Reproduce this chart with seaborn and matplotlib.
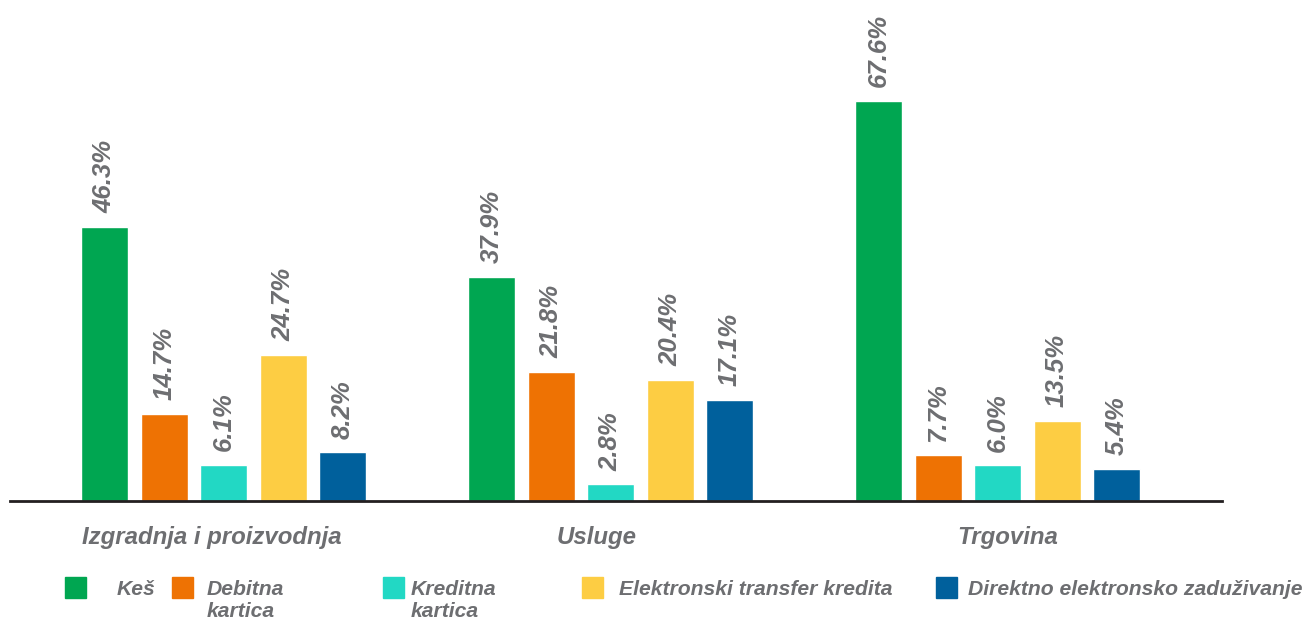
import matplotlib
matplotlib.use("Agg")
import matplotlib.pyplot as plt
import matplotlib.transforms as mtransforms
import seaborn as sns
import pandas as pd
from matplotlib.patches import Rectangle

categories = ["Izgradnja i proizvodnja", "Usluge", "Trgovina"]
series = ["Keš", "Debitna kartica", "Kreditna kartica",
          "Elektronski transfer kredita", "Direktno elektronsko zaduživanje"]
legend_labels = ["Keš", "Debitna\nkartica", "Kreditna\nkartica",
                 "Elektronski transfer kredita", "Direktno elektronsko zaduživanje"]
kes = [46.3, 37.9, 67.6]
debitna = [14.7, 21.8, 7.7]
kreditna = [6.1, 2.8, 6.0]
transfer = [24.7, 20.4, 13.5]
direktno = [8.2, 17.1, 5.4]
colors = ["#00A651", "#EE7203", "#22D8C4", "#FDCD43", "#00609C"]
gray = "#6D6E71"

rows = []
for s, vals in zip(series, [kes, debitna, kreditna, transfer, direktno]):
    for c, v in zip(categories, vals):
        rows.append({"cat": c, "series": s, "val": v})
df = pd.DataFrame(rows)

sns.set_style("white")
plt.rcParams["font.family"] = ["Liberation Sans", "DejaVu Sans"]

fig = plt.figure(figsize=(13.08, 6.22), dpi=100)
ax = fig.add_axes([10 / 1308, (622 - 501) / 622, (1222 - 10) / 1308, 1 - (622 - 501) / 622 - 27.4 / 622])

sns.barplot(data=df, x="cat", y="val", hue="series", order=categories,
            hue_order=series, palette=colors, width=0.7685, gap=0.21,
            saturation=1, ax=ax, legend=False)

ax.set_xlim(-0.552, 2.58)
ax.set_ylim(0, 80)
ax.set_xlabel("")
ax.set_ylabel("")
ax.set_yticks([])
for sp in ["top", "right", "left"]:
    ax.spines[sp].set_visible(False)
ax.spines["bottom"].set_color("#231F20")
ax.spines["bottom"].set_linewidth(2)
ax.tick_params(axis="x", length=0, pad=18)
label_shift_px = [-12, -14, 10]
for t, dx in zip(ax.get_xticklabels(), label_shift_px):
    t.set_fontsize(17.3)
    t.set_fontweight("bold")
    t.set_fontstyle("italic")
    t.set_color(gray)
    t.set_transform(t.get_transform() + mtransforms.Affine2D().translate(dx, 0))

for cont in ax.containers:
    for bar in cont:
        h = bar.get_height()
        ax.annotate(f"{h:.1f}%", (bar.get_x() + bar.get_width() / 2, h),
                    xytext=(0, 10), textcoords="offset points",
                    rotation=90, ha="center", va="bottom",
                    fontsize=18.5, fontweight="bold", fontstyle="italic", color=gray)

# legend
sq_x = [65, 172, 383, 582, 936]
tx_x = [117, 207, 411, 619, 968]
for sx, tx, col, lab in zip(sq_x, tx_x, colors, legend_labels):
    fig.patches.append(Rectangle((sx / 1308, 1 - 598 / 622), 21 / 1308, 21 / 622,
                                 transform=fig.transFigure, color=col))
    fig.text(tx / 1308, 1 - 580 / 622, lab, ha="left", va="top", fontsize=15.2,
             fontweight="bold", fontstyle="italic", color=gray, linespacing=1.2)

fig.savefig("out.png", dpi=100)
